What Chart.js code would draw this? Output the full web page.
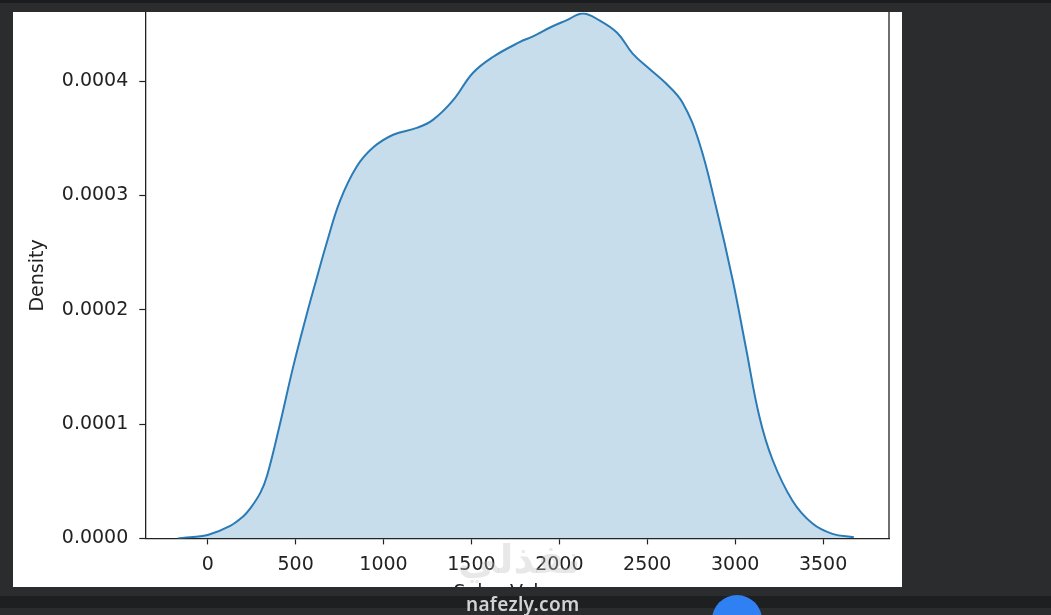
<!DOCTYPE html>
<html>
<head>
<meta charset="utf-8">
<script src="https://cdn.jsdelivr.net/npm/chart.js@4.4.1/dist/chart.umd.min.js"></script>
<style>
  body { margin: 0; width: 1051px; height: 615px; background: #2b2c2e; position: relative; overflow: hidden; }
  #topbar { position: absolute; left: 0; top: 0; width: 1051px; height: 3px; background: #1b1c1e; }
  #panel { position: absolute; left: 13px; top: 12px; width: 889px; height: 575px; background: #fff; overflow: hidden; }
  #wrap { position: absolute; left: 0; top: -22px; width: 889px; height: 614px; }
  #bottombar { position: absolute; left: 0; top: 596px; width: 1051px; height: 12px; background: #1e1f21; }
  #site { position: absolute; left: 466px; top: 591px; font: 600 19px 'Noto Sans', sans-serif; color: #d2d2d2; letter-spacing: 0.3px; }
  #mark { position: absolute; left: 458px; top: 536px; font: bold 40px 'DejaVu Sans', sans-serif; color: rgba(190, 190, 190, 0.35); }
  #ball { position: absolute; left: 712px; top: 595px; width: 50px; height: 50px; border-radius: 50%; background: #2f80f2; }
</style>
</head>
<body>
<div id="topbar"></div>
<div id="panel">
  <div id="wrap"><canvas id="kdeChart"></canvas></div>
</div>
<div id="bottombar"></div>
<div id="mark">نفذلي</div>
<div id="site">nafezly.com</div>
<div id="ball"></div>
<script>
'use strict';

// sales volume (x) and estimated density (y)
let salesVolume = [-170, -100, 0, 128, 200, 241, 300, 338, 411, 486, 565, 610, 678, 752, 847, 942, 1055, 1189, 1281, 1395, 1508, 1622, 1774, 1850, 1950, 2040, 2133, 2228, 2330, 2417, 2510, 2606, 2701, 2796, 2891, 2986, 3061, 3137, 3212, 3326, 3440, 3553, 3675];
let density = [0.0000000, 0.0000010, 0.0000030, 0.0000110, 0.0000190, 0.0000260, 0.0000400, 0.0000550, 0.0001000, 0.0001500, 0.0001970, 0.0002220, 0.0002590, 0.0002950, 0.0003250, 0.0003420, 0.0003530, 0.0003590, 0.0003660, 0.0003830, 0.0004070, 0.0004210, 0.0004340, 0.0004390, 0.0004470, 0.0004530, 0.0004590, 0.0004530, 0.0004420, 0.0004240, 0.0004110, 0.0003980, 0.0003810, 0.0003460, 0.0002900, 0.0002260, 0.0001670, 0.0001070, 0.0000690, 0.0000330, 0.0000130, 0.0000040, 0.0000010];

let xTicks = [0, 500, 1000, 1500, 2000, 2500, 3000, 3500];
let yTicks = [0, 0.0001, 0.0002, 0.0003, 0.0004];

let points = [];
for (let i = 0; i < salesVolume.length; i++) {
  points.push({ x: salesVolume[i], y: density[i] });
}

// matplotlib draws a right spine too
const rightSpine = {
  id: 'rightSpine',
  afterDraw(chart) {
    const { ctx, chartArea } = chart;
    ctx.save();
    ctx.strokeStyle = '#222';
    ctx.lineWidth = 1.3;
    ctx.beginPath();
    ctx.moveTo(chartArea.right, chartArea.top - 20);
    ctx.lineTo(chartArea.right, chartArea.bottom);
    ctx.stroke();
    ctx.restore();
  }
};

const font = { family: "'DejaVu Sans', sans-serif", size: 19 };

new Chart(document.getElementById('kdeChart'), {
  type: 'line',
  data: {
    datasets: [{
      data: points,
      borderColor: '#2a7bb6',
      backgroundColor: 'rgba(31, 119, 180, 0.25)',
      borderWidth: 2,
      fill: 'origin',
      pointRadius: 0,
      tension: 0.4,
    }],
  },
  plugins: [rightSpine],
  options: {
    responsive: true,
    maintainAspectRatio: false,
    animation: false,
    layout: { padding: { left: 14, right: 13, top: 0, bottom: 0 } },
    plugins: { legend: { display: false }, tooltip: { enabled: false } },
    scales: {
      x: {
        type: 'linear',
        min: -355,
        max: 3875,
        afterBuildTicks: (axis) => { axis.ticks = xTicks.map(v => ({ value: v })); },
        ticks: { font: font, color: '#222', padding: 9, maxRotation: 0, callback: (v) => String(v) },
        grid: { drawOnChartArea: false, tickLength: 6, tickColor: '#222', tickWidth: 1.2 },
        border: { color: '#222', width: 1.3 },
        title: { display: true, text: 'Sales Volume', font: font, color: '#222', padding: { top: -4, bottom: 0 } },
      },
      y: {
        min: 0,
        max: 0.00046,
        afterBuildTicks: (axis) => { axis.ticks = yTicks.map(v => ({ value: v })); },
        ticks: { font: font, color: '#222', padding: 11, callback: (v) => v.toFixed(4) },
        grid: { drawOnChartArea: false, tickLength: 6, tickColor: '#222', tickWidth: 1.2 },
        border: { color: '#222', width: 1.3 },
        title: { display: true, text: 'Density', font: font, color: '#222', padding: { top: 0, bottom: 1 } },
      },
    },
  },
});
</script>
</body>
</html>
